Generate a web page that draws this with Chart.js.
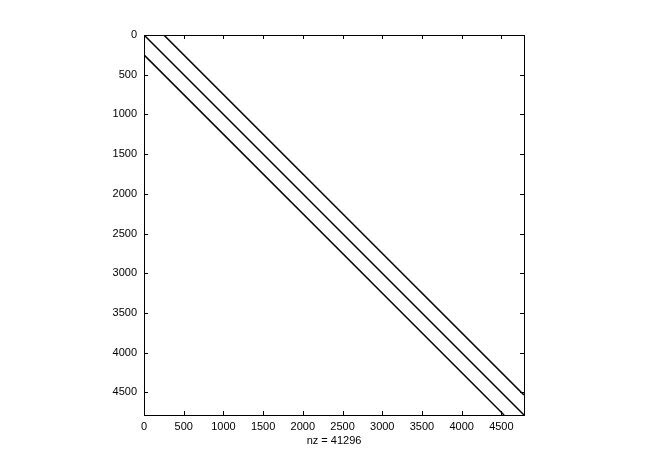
<!DOCTYPE html>
<html>
<head>
<meta charset="utf-8">
<script src="https://cdn.jsdelivr.net/npm/chart.js@4/dist/chart.umd.min.js"></script>
<style>
  body { margin: 0; background: #fff; }
  canvas { display: block; }
</style>
</head>
<body>
<canvas id="spy" width="646" height="466"></canvas>
<script>
// Tamaño de la matriz y desplazamiento de cada banda (columna - fila)
const matrixSize = 4784;
const bandOffsets = [250, 0, -250];
const nonZeros = 41296;
const tickValues = [0, 500, 1000, 1500, 2000, 2500, 3000, 3500, 4000, 4500];

// cada banda va del borde superior/izquierdo hasta el final de la matriz
function bandPoints(k) {
    if (k >= 0) return [{ x: k, y: 0 }, { x: matrixSize, y: matrixSize - k }];
    return [{ x: 0, y: -k }, { x: matrixSize + k, y: matrixSize }];
}

const datasets = bandOffsets.map(k => ({
    data: bandPoints(k),
    showLine: true,
    borderColor: '#000',
    borderWidth: 1.5,
    pointRadius: 0,
    fill: false
}));

// marcas hacia dentro en los cuatro lados + caja
const boxTicks = {
    id: 'boxTicks',
    afterDraw(chart) {
        const { ctx, chartArea: a, scales } = chart;
        const len = 4;
        ctx.save();
        ctx.strokeStyle = '#000';
        ctx.lineWidth = 1;
        ctx.strokeRect(a.left + 0.5, a.top + 0.5, a.right - a.left, a.bottom - a.top);
        ctx.beginPath();
        tickValues.forEach(v => {
            const px = Math.round(scales.x.getPixelForValue(v)) + 0.5;
            ctx.moveTo(px, a.bottom); ctx.lineTo(px, a.bottom - len);
            ctx.moveTo(px, a.top); ctx.lineTo(px, a.top + len);
            const py = Math.round(scales.y.getPixelForValue(v)) + 0.5;
            ctx.moveTo(a.left, py); ctx.lineTo(a.left + len, py);
            ctx.moveTo(a.right, py); ctx.lineTo(a.right - len, py);
        });
        ctx.stroke();
        ctx.restore();
    }
};

const tickFont = { family: 'Liberation Sans', size: 11 };
const plainLabel = v => String(v);

new Chart(document.getElementById('spy'), {
    type: 'scatter',
    data: { datasets: datasets },
    plugins: [boxTicks],
    options: {
        responsive: false,
        animation: false,
        layout: { padding: { left: 0, top: 35, right: 122, bottom: 0 } },
        plugins: { legend: { display: false }, tooltip: { enabled: false } },
        scales: {
            x: {
                type: 'linear', position: 'bottom',
                min: 0, max: matrixSize + 1,
                afterBuildTicks: s => { s.ticks = tickValues.map(v => ({ value: v })); },
                afterFit: s => { s.height = 51; },
                grid: { drawOnChartArea: false, drawTicks: false },
                border: { display: false },
                ticks: { color: '#000', font: tickFont, padding: 5, maxRotation: 0, autoSkip: false, callback: plainLabel },
                title: {
                    display: true, text: 'nz = ' + nonZeros, color: '#000',
                    font: tickFont, padding: { top: 0, bottom: 18 }
                }
            },
            y: {
                type: 'linear', reverse: true,
                min: 0, max: matrixSize + 1,
                afterBuildTicks: s => { s.ticks = tickValues.map(v => ({ value: v })); },
                afterFit: s => { s.width = 144; },
                grid: { drawOnChartArea: false, drawTicks: false },
                border: { display: false },
                ticks: { color: '#000', font: tickFont, padding: 7, autoSkip: false, callback: plainLabel }
            }
        }
    }
});
</script>
</body>
</html>
